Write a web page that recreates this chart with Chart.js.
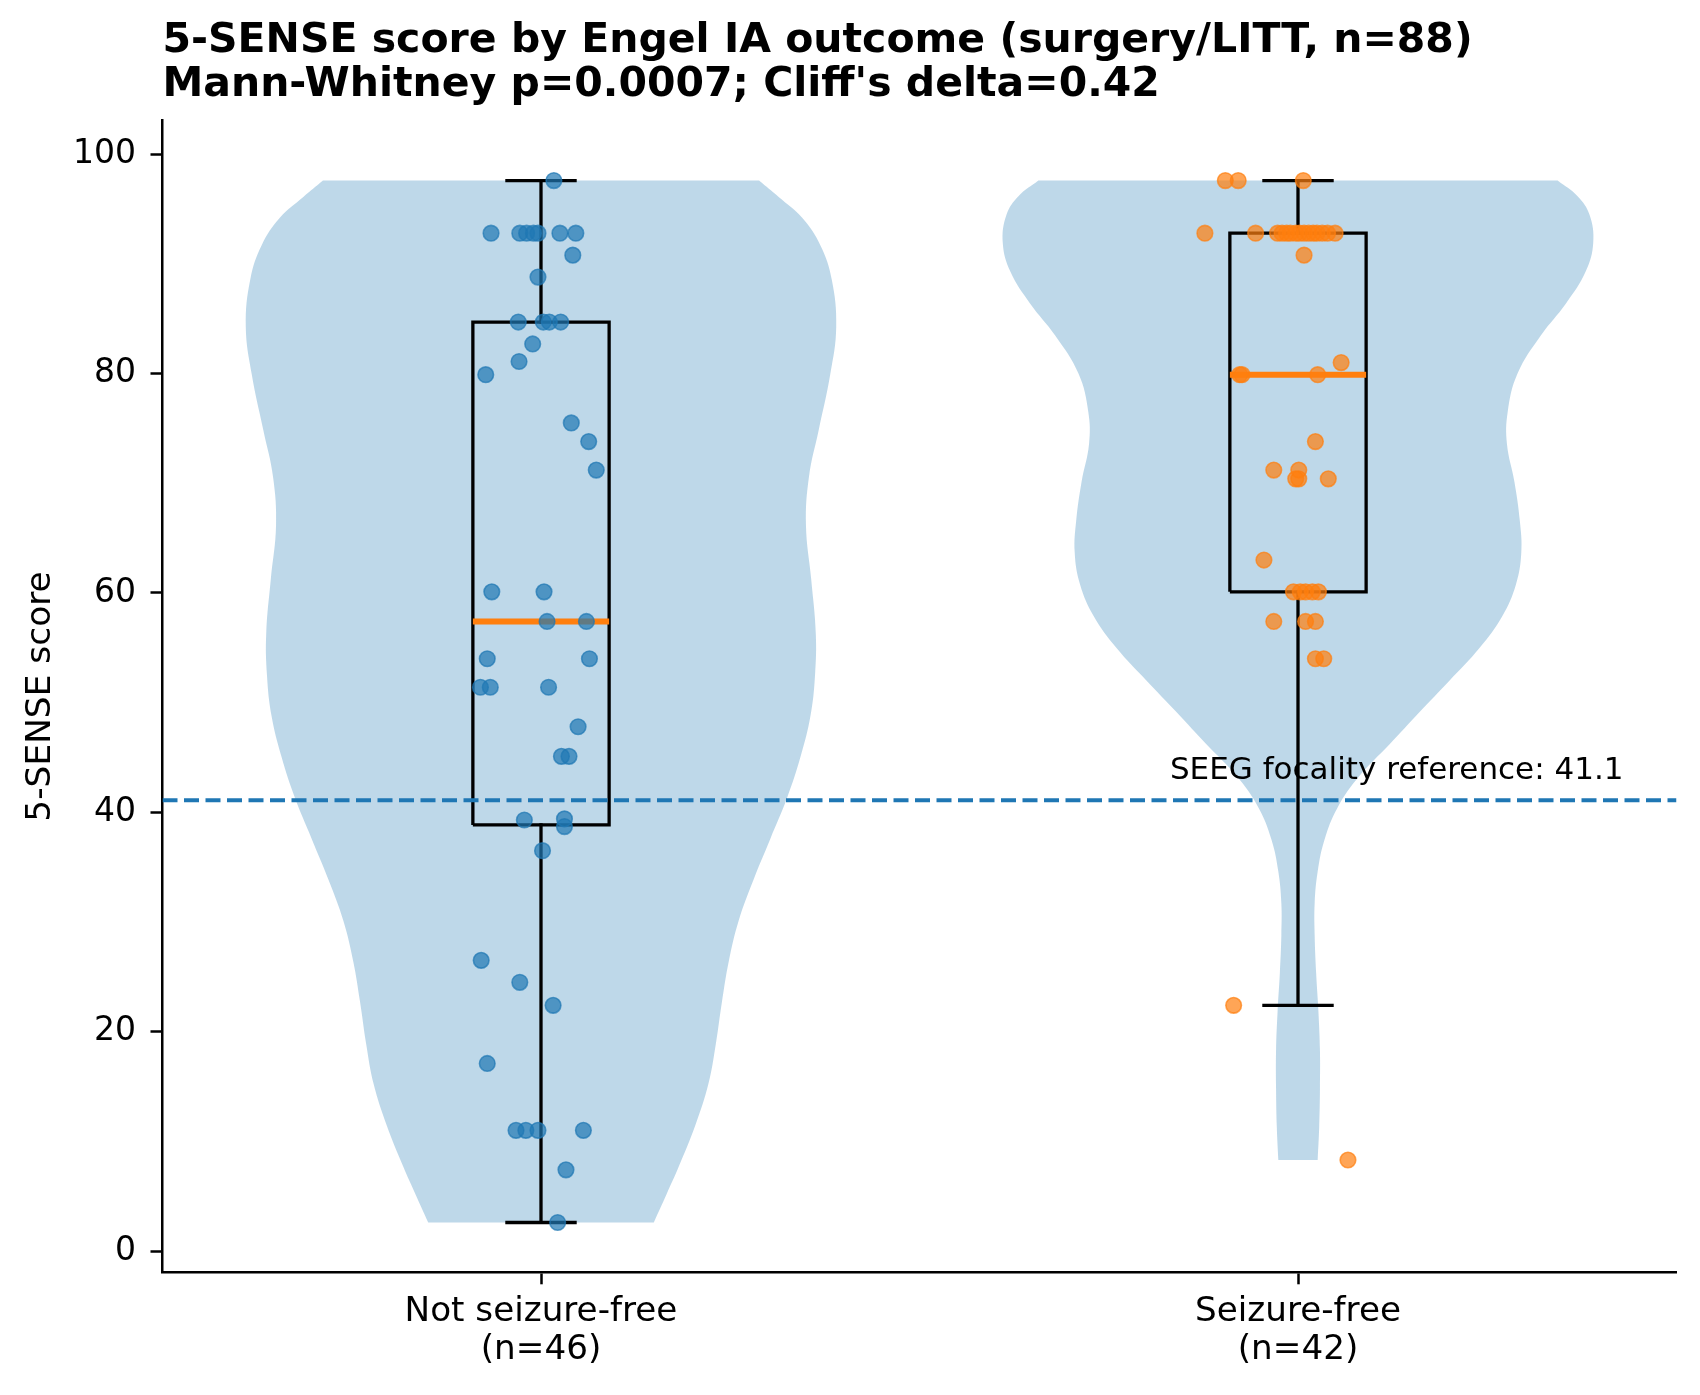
<!DOCTYPE html>
<html>
<head>
<meta charset="utf-8">
<script src="https://cdn.jsdelivr.net/npm/chart.js@4.4.0/dist/chart.umd.min.js"></script>
<style>
html, body { margin: 0; padding: 0; background: #fff; }
canvas { display: block; }
</style>
</head>
<body>
<canvas id="chart" width="1700" height="1395" style="width:1700px;height:1395px"></canvas>
<script>
const groups = ['Not seizure-free', 'Seizure-free'];
const groupN = [46, 42];
const scoreTicks = [0, 20, 40, 60, 80, 100];
const seegRef = 41.1;

// jittered points: offset from group centre, score
const nsfJitter = [0.017,
  -0.066, -0.028, -0.019, -0.010, -0.004, 0.025, 0.046,
  0.042, -0.004, -0.030, 0.003, 0.011, 0.026, -0.011, -0.029, -0.073,
  0.040, 0.063, 0.073, -0.065, 0.004, 0.008, 0.060, -0.071, 0.064,
  -0.080, -0.067, 0.010, 0.049, 0.027, 0.037, -0.022, 0.031, 0.031, 0.002,
  -0.079, -0.028, 0.016, -0.071, -0.033, -0.020, -0.004, 0.056, 0.033, 0.022];
const nsfScore = [97.6,
  92.8, 92.8, 92.8, 92.8, 92.8, 92.8, 92.8,
  90.8, 88.8, 84.7, 84.7, 84.7, 84.7, 82.7, 81.1, 79.9,
  75.5, 73.8, 71.2, 60.1, 60.1, 57.4, 57.4, 54.0, 54.0,
  51.4, 51.4, 51.4, 47.8, 45.1, 45.1, 39.3, 39.4, 38.7, 36.5,
  26.5, 24.5, 22.4, 17.1, 11.0, 11.0, 11.0, 11.0, 7.4, 2.6];

const sfJitter = [-0.096, -0.079, 0.007,
  -0.123, -0.056, -0.027, -0.021, -0.015, -0.010, -0.003, 0.002, 0.008,
  0.014, 0.020, 0.025, 0.032, 0.039, 0.049,
  0.008, 0.057, -0.077, -0.074, 0.026, 0.023, -0.032, 0.001,
  -0.003, 0.001, 0.040, -0.045, -0.006, 0.003, 0.010, 0.019, 0.027,
  -0.032, 0.010, 0.023, 0.023, 0.034, -0.085, 0.066];
const sfScore = [97.6, 97.6, 97.6,
  92.8, 92.8, 92.8, 92.8, 92.8, 92.8, 92.8, 92.8, 92.8,
  92.8, 92.8, 92.8, 92.8, 92.8, 92.8,
  90.8, 81.0, 79.9, 79.9, 79.9, 73.8, 71.2, 71.2,
  70.4, 70.4, 70.4, 63.0, 60.1, 60.1, 60.1, 60.1, 60.1,
  57.4, 57.4, 57.4, 54.0, 54.0, 22.4, 8.3];

// violin outlines: score level (top to bottom) and half width
const nsfViolinY = [97.6, 96.1, 94.2, 91.7, 88.6, 84.3, 79.9, 74.9, 70.6, 66.2, 61.2, 56.3, 52.5,
  48.8, 45.1, 41.3, 37.6, 33.9, 30.1, 26.4, 22.7, 18.9, 15.2, 11.5, 7.7, 5.2, 2.6];
const nsfViolinW = [0.288, 0.314, 0.345, 0.369, 0.384, 0.390, 0.382, 0.367, 0.354, 0.350, 0.357, 0.363, 0.362,
  0.356, 0.343, 0.325, 0.303, 0.281, 0.261, 0.248, 0.239, 0.231, 0.221, 0.204, 0.182, 0.166, 0.149];
const sfViolinY = [97.6, 96.2, 94.5, 91.9, 89.3, 86.4, 83.5, 80.0, 76.5, 73.6, 70.1, 66.6, 63.7, 60.8,
  57.9, 55.0, 52.0, 49.1, 46.2, 43.3, 40.4, 37.5, 34.6, 31.7, 28.8, 25.3, 21.8, 18.3, 14.8, 11.3, 8.3];
const sfViolinW = [0.343, 0.369, 0.385, 0.390, 0.380, 0.354, 0.321, 0.290, 0.277, 0.276, 0.286, 0.293, 0.295, 0.288,
  0.270, 0.240, 0.200, 0.160, 0.121, 0.081, 0.052, 0.035, 0.026, 0.022, 0.022, 0.024, 0.027, 0.029, 0.029, 0.028, 0.026];

const BLUE = '#1f77b4';
const ORANGE = '#ff7f0e';
const BOX_HALF = 0.09;
const CAP_HALF = 0.045;

function quantile(sorted, p) {
  const pos = p * (sorted.length - 1);
  const lo = Math.floor(pos);
  const hi = Math.min(lo + 1, sorted.length - 1);
  return sorted[lo] + (pos - lo) * (sorted[hi] - sorted[lo]);
}

function boxStats(values) {
  const s = values.slice().sort((a, b) => a - b);
  const q1 = quantile(s, 0.25), med = quantile(s, 0.5), q3 = quantile(s, 0.75);
  const iqr = q3 - q1;
  const lo = s.find(v => v >= q1 - 1.5 * iqr);
  const hi = s.slice().reverse().find(v => v <= q3 + 1.5 * iqr);
  return {q1, med, q3, lo, hi};
}

function violinShape(c, ys, ws) {
  const right = ys.map((y, i) => ({x: c + ws[i], y})).reverse();
  const left = ys.map((y, i) => ({x: c - ws[i], y}));
  // doubled top corners keep the flat top edge straight
  return [...right, right[right.length - 1], left[0], ...left];
}

function segs(list) {
  const out = [];
  list.forEach((s, i) => {
    if (i) out.push({x: s[0][0], y: null});
    out.push({x: s[0][0], y: s[0][1]}, {x: s[1][0], y: s[1][1]});
  });
  return out;
}

function groupDatasets(c, jitter, score, vy, vw, color) {
  const st = boxStats(score);
  return [
    {
      type: 'line', data: violinShape(c, vy, vw), order: 10,
      fill: 'shape', backgroundColor: 'rgba(31,119,180,0.29)',
      borderWidth: 0, pointRadius: 0, tension: 0.4
    },
    {
      type: 'line', order: 8, borderColor: '#000', borderWidth: 3.3, pointRadius: 0,
      fill: false, tension: 0, borderJoinStyle: 'miter',
      data: [
        {x: c - BOX_HALF, y: st.q1}, {x: c + BOX_HALF, y: st.q1},
        {x: c + BOX_HALF, y: st.q3}, {x: c - BOX_HALF, y: st.q3},
        {x: c - BOX_HALF, y: st.q1}
      ]
    },
    {
      type: 'line', order: 8, borderColor: '#000', borderWidth: 3.3, pointRadius: 0,
      fill: false, tension: 0, borderCapStyle: 'square',
      data: segs([
        [[c, st.q3], [c, st.hi]],
        [[c, st.q1], [c, st.lo]],
        [[c - CAP_HALF, st.hi], [c + CAP_HALF, st.hi]],
        [[c - CAP_HALF, st.lo], [c + CAP_HALF, st.lo]]
      ])
    },
    {
      type: 'line', order: 7, borderColor: ORANGE, borderWidth: 6, pointRadius: 0,
      fill: false, tension: 0,
      data: [{x: c - BOX_HALF, y: st.med}, {x: c + BOX_HALF, y: st.med}]
    },
    {
      type: 'scatter', order: 5,
      data: score.map((v, i) => ({x: c + jitter[i], y: v})),
      pointRadius: 7.8, pointBorderWidth: 1.6,
      pointBackgroundColor: color, pointBorderColor: color
    }
  ];
}

const refLabel = {
  id: 'refLabel',
  afterDatasetsDraw(chart) {
    const {ctx, scales: {x, y}} = chart;
    ctx.save();
    ctx.font = '31px "DejaVu Sans"';
    ctx.fillStyle = '#000';
    ctx.textAlign = 'right';
    ctx.textBaseline = 'alphabetic';
    ctx.fillText('SEEG focality reference: ' + seegRef, x.getPixelForValue(1.43), y.getPixelForValue(43.0));
    ctx.restore();
  }
};

Chart.defaults.font.family = '"DejaVu Sans", sans-serif';
Chart.defaults.color = '#000';

new Chart(document.getElementById('chart').getContext('2d'), {
  type: 'scatter',
  data: {
    datasets: [
      ...groupDatasets(0, nsfJitter, nsfScore, nsfViolinY, nsfViolinW, 'rgba(31,119,180,0.7)'),
      ...groupDatasets(1, sfJitter, sfScore, sfViolinY, sfViolinW, 'rgba(255,127,14,0.7)'),
      {
        type: 'line', order: 1, borderColor: BLUE, borderWidth: 4, borderDash: [15, 6.5],
        pointRadius: 0, fill: false,
        data: [{x: -0.5, y: seegRef}, {x: 1.5, y: seegRef}]
      }
    ]
  },
  options: {
    responsive: false,
    animation: false,
    devicePixelRatio: 1,
    layout: {padding: {left: 0, right: 23.5, top: 0, bottom: 0}},
    plugins: {
      legend: {display: false},
      tooltip: {enabled: false},
      title: {
        display: true,
        fullSize: false,
        align: 'start',
        text: ['5-SENSE score by Engel IA outcome (surgery/LITT, n=88)',
               "Mann-Whitney p=0.0007; Cliff's delta=0.42"],
        font: {size: 41, weight: 'bold', lineHeight: 1.08},
        color: '#000',
        padding: {top: 19.3, bottom: 12.8}
      }
    },
    scales: {
      x: {
        type: 'linear', min: -0.5, max: 1.5,
        afterFit: s => { s.height = 122.7; },
        afterBuildTicks: s => { s.ticks = [{value: 0}, {value: 1}]; },
        grid: {drawOnChartArea: false, drawTicks: true, tickLength: 12, tickWidth: 2.5, tickColor: '#000'},
        border: {display: true, color: '#000', width: 2.5},
        ticks: {
          font: {size: 34.2, lineHeight: 1.13}, color: '#000', padding: 8, maxRotation: 0,
          callback: (v, i) => [groups[i], '(n=' + groupN[i] + ')']
        }
      },
      y: {
        type: 'linear', min: -1.94, max: 103.06,
        afterFit: s => { s.width = 162.5; },
        afterBuildTicks: s => { s.ticks = scoreTicks.map(v => ({value: v})); },
        grid: {drawOnChartArea: false, drawTicks: true, tickLength: 12, tickWidth: 2.5, tickColor: '#000'},
        border: {display: true, color: '#000', width: 2.5},
        ticks: {font: {size: 33}, color: '#000', padding: 14.5},
        title: {
          display: true, text: '5-SENSE score', color: '#000',
          font: {size: 34.4, lineHeight: 1.2}, padding: {top: 20.9, bottom: 0}
        }
      }
    }
  },
  plugins: [refLabel]
});
</script>
</body>
</html>
